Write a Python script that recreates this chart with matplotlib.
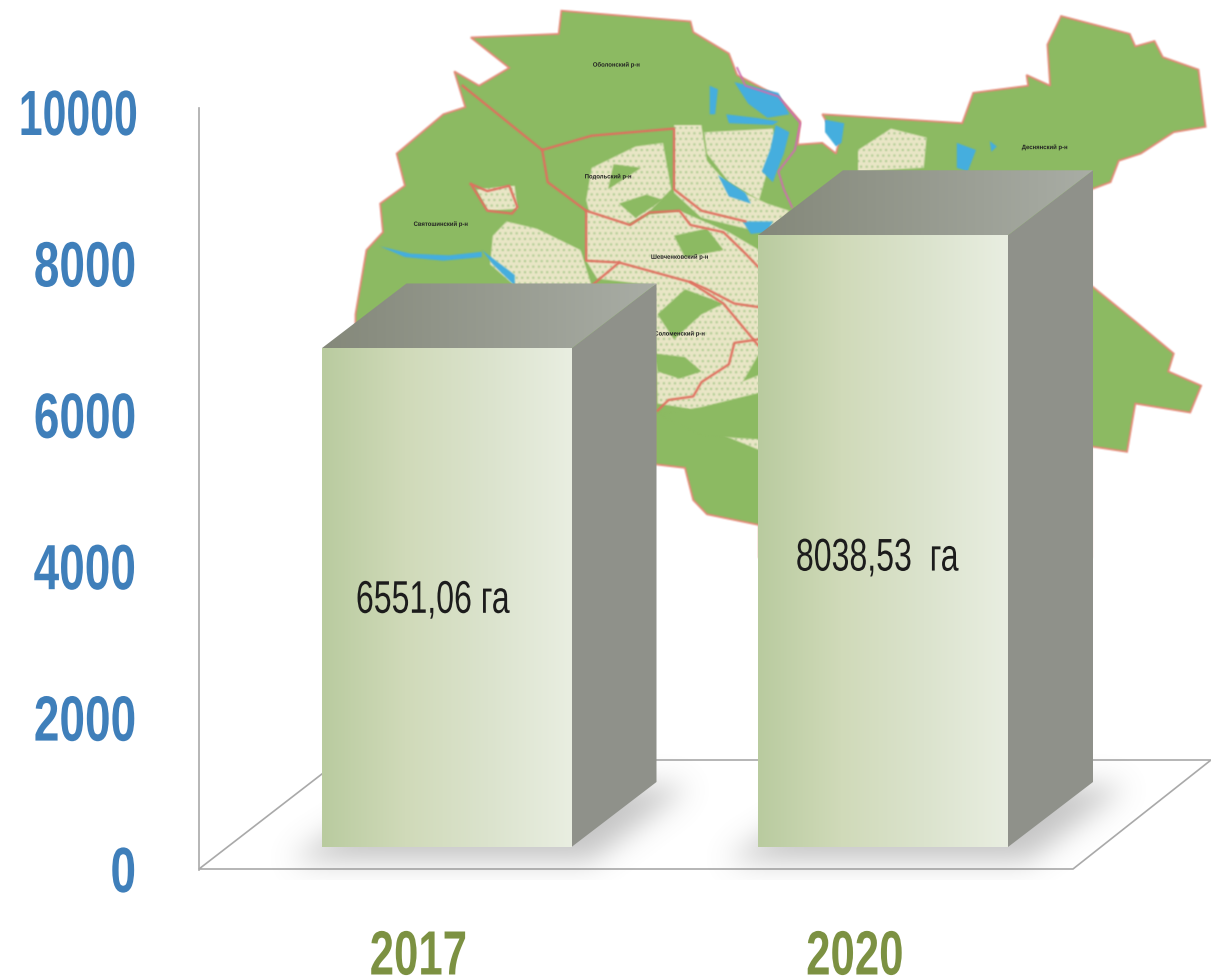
import numpy as np
import matplotlib
matplotlib.use("Agg")
import matplotlib.pyplot as plt
from matplotlib.colors import LinearSegmentedColormap
from matplotlib.patches import Polygon
from matplotlib.path import Path
from matplotlib.patheffects import AbstractPathEffect
from matplotlib.transforms import Affine2D

# data
years = ["2017", "2020"]
areas = [6551.06, 8038.53]
area_labels = ["6551,06 га", "8038,53  га"]
ticks = [0, 2000, 4000, 6000, 8000, 10000]

W, H = 1211, 980
plt.rcParams['font.family'] = ['Liberation Sans', 'DejaVu Sans']
plt.rcParams['hatch.linewidth'] = 0.8

# no condensed font installed, so squeeze the glyphs when they get drawn
class Narrow(AbstractPathEffect):
    def __init__(self, sx, shift=0, shift_y=0):
        super().__init__()
        self.sx = sx
        self.shift = shift
        self.shift_y = shift_y

    def draw_path(self, renderer, gc, tpath, affine, rgbFace=None):
        ext = tpath.get_extents()
        a = ext.x0 + ext.width / 2
        t = Affine2D().translate(-a, 0).scale(self.sx, 1).translate(a, 0) + affine
        t = t + Affine2D().translate(self.shift, self.shift_y)
        renderer.draw_path(gc, tpath, t, rgbFace)

def blur(img, dpi):
    pad = 2
    out = np.pad(img, ((pad, pad), (pad, pad), (0, 0)))
    out[..., :3] *= out[..., 3:4]
    for axis in (0, 1):
        out = (np.roll(out, 1, axis) + 2 * out + np.roll(out, -1, axis)) / 4
    alpha = np.clip(out[..., 3:4], 1e-4, 1)
    out[..., :3] = np.clip(out[..., :3] / alpha, 0, 1)
    return out, -pad, -pad

# map outline etc. read from a 1.821 x 2.8 zoom of the picture
def z(pts):
    return [(350 + a / 1.821, b / 2.8) for a, b in pts]

map_outline = [(385,30),(620,60),(625,90),(690,150),(705,210),(780,270),(820,340),(815,405),(860,400),(885,430),
    (890,400),(860,320),(1115,345),(1135,260),(1235,240),(1232,210),(1275,240),(1270,125),(1295,45),(1420,95),
    (1430,130),(1465,115),(1480,160),(1545,195),(1558,355),(1500,370),(1440,430),(1400,450),(1385,510),(1350,530),
    (1350,800),(1430,900),(1500,990),(1490,1040),(1550,1080),(1530,1155),(1430,1130),(1415,1265),(1350,1250),
    (1350,1560),(745,1560),(745,1470),(650,1440),(625,1400),(610,1310),(555,1300),(555,1000),(10,1000),(10,880),
    (30,700),(60,650),(55,570),(100,520),(85,430),(170,320),(210,300),(190,200),(235,240),(290,190),(220,105),(380,95)]

cream_patches = [
    [(590,350),(640,350),(650,450),(690,520),(760,570),(800,590),(770,640),(720,640),(640,610),(590,540)],
    [(645,370),(770,360),(780,420),(760,480),(745,560),(690,510),(650,430)],
    [(440,470),(520,410),(570,400),(585,530),(540,600),(490,640),(440,620),(430,560)],
    [(430,590),(510,630),(545,600),(600,590),(690,650),(745,700),(745,990),(700,1110),(640,1150),(560,1130),(555,800),(450,780),(430,730)],
    [(260,660),(285,620),(340,640),(420,700),(440,800),(300,800),(255,740)],
    [(925,420),(985,360),(1050,385),(1045,470),(925,480)],
    [(230,530),(300,520),(305,585),(250,590)],
    [(610,1130),(745,1050),(745,1260),(650,1200)],
]
green_patches = [
    [(490,570),(540,545),(570,560),(520,610)],
    [(590,660),(650,640),(680,700),(610,720)],
    [(560,880),(610,810),(680,850),(640,880),(590,950)],
    [(555,990),(610,1000),(640,1040),(600,1060),(560,1040)],
    [(560,1160),(640,1140),(745,1100),(745,1230),(640,1220)],
    [(480,460),(530,470),(470,530)],
]
water = [
    [(700,230),(780,260),(800,320),(760,330),(725,290)],
    [(685,320),(740,330),(780,340),(770,350),(690,345)],
    [(775,350),(800,370),(790,430),(770,510),(750,480),(765,420)],
    [(865,335),(900,345),(895,400),(885,410),(865,370)],
    [(55,690),(110,710),(180,715),(240,705),(240,720),(170,730),(100,720)],
    [(240,700),(300,770),(300,800),(260,740)],
    [(670,490),(720,540),(730,570),(690,550)],
    [(715,620),(770,620),(760,650),(730,655)],
    [(1105,400),(1140,420),(1125,480),(1105,470)],
    [(655,240),(670,250),(665,320),(655,320)],
    [(1165,395),(1178,410),(1168,425)],
]
red_lines = [
    [(205,240),(350,420),(440,380),(590,360),(590,530),(640,590),(720,620)],
    [(350,420),(360,510),(430,590),(430,730),(490,735),(620,790),(680,850),(745,970)],
    [(430,590),(510,630),(545,595),(600,590),(620,630),(680,650),(720,710),(745,750)],
    [(490,735),(440,800)],
    [(620,790),(650,810),(700,850),(745,860)],
    [(745,950),(700,960),(690,1020),(640,1070),(625,1110),(580,1120),(560,1150)],
]
district_loop = [(220,515),(250,535),(290,520),(305,580),(295,598),(250,590)]
river_pink = [(705,190),(720,240),(780,270),(820,345),(810,420),(780,480),(790,530),(805,580)]
map_names = [("Оболонский р-н", 485, 182), ("Деснянский р-н", 1265, 413), ("Подольский р-н", 470, 495),
             ("Святошинский р-н", 165, 628), ("Шевченковский р-н", 600, 720), ("Соломенский р-н", 600, 935)]

fig = plt.figure(figsize=(W / 100, H / 100), dpi=100, facecolor='white')

# backdrop in pixel coords
bg = fig.add_axes([0, 0, 1, 1])
bg.axis('off')

bg.add_patch(Polygon(z(map_outline), closed=True, fc='#8cba62', ec='#e58a78', lw=1.3, zorder=1, agg_filter=blur))
for p in cream_patches:
    bg.add_patch(Polygon(z(p), closed=True, fc='#e9e6c6', ec='#a9c98d', lw=0, hatch='...', zorder=2, agg_filter=blur))
for p in green_patches:
    bg.add_patch(Polygon(z(p), closed=True, fc='#8cba62', ec='none', zorder=3, agg_filter=blur))
for p in water:
    bg.add_patch(Polygon(z(p), closed=True, fc='#45aede', ec='none', zorder=4, agg_filter=blur))
for line in red_lines + [district_loop + district_loop[:1]]:
    xy = np.array(z(line))
    bg.plot(xy[:, 0], xy[:, 1], color='#e0705f', lw=1.6, zorder=5, agg_filter=blur)
xy = np.array(z(river_pink))
bg.plot(xy[:, 0], xy[:, 1], color='#cf6fb0', lw=1.3, zorder=5, agg_filter=blur)
for name, a, b in map_names:
    (px, py), = z([(a, b)])
    t = bg.text(px, py, name, fontsize=4.5, color='#222222', ha='center', va='center', fontweight='bold', zorder=6)
    t.set_path_effects([Narrow(0.95)])

# floor
bg.add_patch(Polygon([(199, 869), (1073, 869), (1211, 760), (340, 760)], closed=True, fc='white', ec='#a9a9a9', lw=1.2, zorder=7))

# soft shadow on the floor, blurred footprint of each bar
yy, xx = np.mgrid[740:880, 230:1180]
pts = np.column_stack([xx.ravel(), yy.ravel()])
shade = np.zeros(xx.shape)
for l, r in [(322, 571), (758, 1008)]:
    foot = Path([(l - 32, 860), (r + 20, 860), (r + 118, 786), (l + 85, 786)])
    shade += foot.contains_points(pts).reshape(xx.shape)
kernel = np.exp(-0.5 * (np.arange(-40, 41) / 14.0) ** 2)
kernel = kernel / kernel.sum()
shade = np.apply_along_axis(lambda v: np.convolve(v, kernel, mode='same'), 0, shade)
shade = np.apply_along_axis(lambda v: np.convolve(v, kernel, mode='same'), 1, shade)
img = np.zeros(xx.shape + (4,))
img[..., :3] = 0.5
img[..., 3] = 0.45 * shade
bg.imshow(img, extent=(230, 1180, 880, 740), aspect='auto', zorder=8)
bg.set_xlim(0, W)
bg.set_ylim(H, 0)

# value axes, zero at the bar foot
px_per_unit = 0.0761
ax = fig.add_axes([0, 0, 1, 1])
ax.patch.set_alpha(0)
ax.axis('off')

bar_x = [446.5, 883]
bar_w = 250
dx = 85
dy = 65 / px_per_unit

front_cm = LinearSegmentedColormap.from_list('front', ['#b9cb9f', '#d0dab9', '#dbe3cd', '#e9eee1'])
top_cm = LinearSegmentedColormap.from_list('top', ['#84887a', '#a9ada5'])
grad = np.linspace(0, 1, 256).reshape(1, -1)

bars = ax.bar(bar_x, areas, width=bar_w, color='none', zorder=3)
for bar, val in zip(bars, areas):
    l, r = bar.get_x(), bar.get_x() + bar.get_width()
    im = ax.imshow(grad, cmap=front_cm, extent=(l, r, 0, val), aspect='auto', zorder=3)
    im.set_clip_path(bar)
    ax.add_patch(Polygon([(r, 0), (r + dx, dy), (r + dx, val + dy), (r, val)], closed=True, fc='#8f918a', ec='none', zorder=2))
    top = Polygon([(l, val), (r, val), (r + dx, val + dy), (l + dx, val + dy)], closed=True, fc='none', ec='none', zorder=2)
    ax.add_patch(top)
    im2 = ax.imshow(grad, cmap=top_cm, extent=(l, r + dx, val, val + dy), aspect='auto', zorder=2)
    im2.set_clip_path(top)
ax.set_xlim(0, W)
ax.set_ylim((847 - H) / px_per_unit, 847 / px_per_unit)

label_y = [3235, 3790]
label_dx = [-14, -6]
for x, y, lab, off in zip(bar_x, label_y, area_labels, label_dx):
    t = ax.text(x + off, y, lab, fontsize=33, color='#1c1c1c', ha='center', va='center', zorder=5)
    t.set_path_effects([Narrow(0.7)])

# bottom of the box would leave the figure, so the glyphs go down a bit from it
for x, year in zip(bar_x, years):
    t = ax.text(x - 28, (847 - 942) / px_per_unit, year, fontsize=45, fontweight='bold', color='#7c9142',
                ha='center', va='center', zorder=5)
    t.set_path_effects([Narrow(0.7, 0, -16)])

# the scale on the left sits a little lower than the bars
sc = fig.add_axes([199 / W, (H - 870) / H, 0.3, (870 - 108) / H])
sc.patch.set_alpha(0)
sc.set_ylim(0, 10066)
sc.set_xticks([])
sc.set_yticks(ticks, labels=[])
sc.tick_params(axis='y', length=0)
digit_w = 25.5
for v in ticks:
    lab = str(v)
    if len(lab) == 5:
        # five digits at this size would not fit the box at the left edge, only the glyphs are moved
        off, shift, sx = -107, -14, 0.67
    else:
        off, shift, sx = -63 - digit_w * len(lab) / 2, 0, 0.72
    t = sc.annotate(lab, xy=(0, v), xycoords=('axes fraction', 'data'), xytext=(off, -5), textcoords='offset pixels',
                    ha='center', va='center', fontsize=46, fontweight='bold', color='#3f7fba', annotation_clip=False)
    t.set_path_effects([Narrow(sx, shift)])
for s in ['top', 'right', 'bottom']:
    sc.spines[s].set_visible(False)
sc.spines['left'].set_color('#a9a9a9')
sc.spines['left'].set_linewidth(1.2)
sc.set_zorder(0)

fig.savefig('out.png', dpi=100)
